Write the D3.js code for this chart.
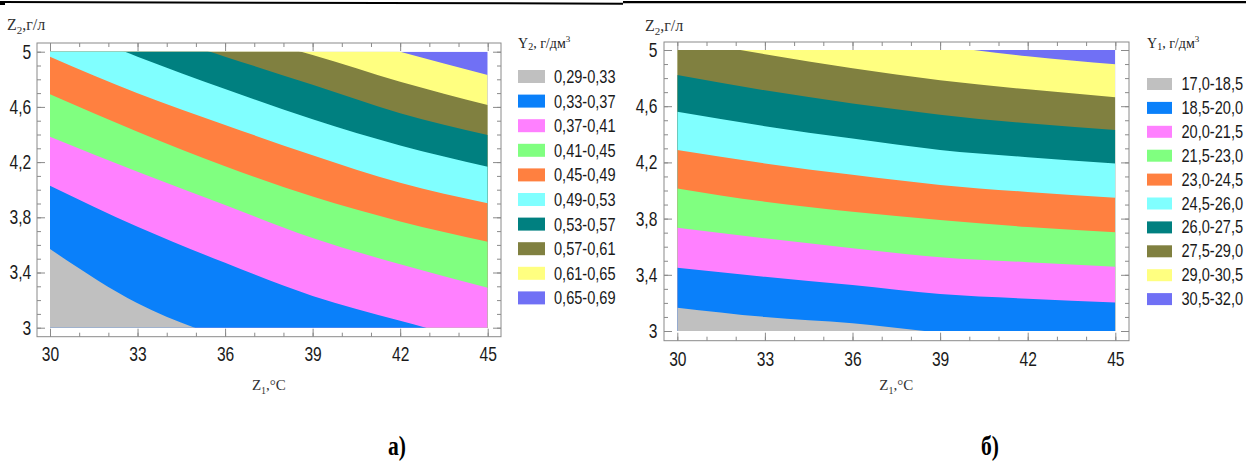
<!DOCTYPE html>
<html><head><meta charset="utf-8">
<script src="https://cdn.jsdelivr.net/npm/d3@7"></script>
<style>
html,body{margin:0;padding:0;background:#fff;}
svg{display:block;}
</style></head><body>
<svg id="c" width="1246" height="468"></svg>
<script>
// ---------- data ----------
const z1Grid = [30, 33, 36, 39, 42, 45];
const z1Ticks = [30, 33, 36, 39, 42, 45];
const z1TickLabels = ["30", "33", "36", "39", "42", "45"];
const z2Ticks = [3, 3.4, 3.8, 4.2, 4.6, 5];
const z2TickLabels = ["3", "3,4", "3,8", "4,2", "4,6", "5"];
const bandColors = ["#c0c0c0", "#0a80fa", "#ff80ff", "#80ff80", "#ff8040",
                    "#80ffff", "#008080", "#808040", "#ffff80", "#7070f5"];

// chart а) : Y2, г/дм3 — band labels
const legendA = ["0,29-0,33", "0,33-0,37", "0,37-0,41", "0,41-0,45", "0,45-0,49",
                 "0,49-0,53", "0,53-0,57", "0,57-0,61", "0,61-0,65", "0,65-0,69"];
// contour lines (Z2 at each Z1 of z1Grid)
const a033 = [3.570, 3.177, 2.920, 2.720, 2.550, 2.400];
const a037 = [4.029, 3.732, 3.470, 3.230, 3.050, 2.880];
const a041 = [4.384, 4.130, 3.889, 3.650, 3.460, 3.290];
const a045 = [4.691, 4.420, 4.170, 3.950, 3.770, 3.623];
const a049 = [4.964, 4.699, 4.469, 4.250, 4.050, 3.901];
const a053 = [5.220, 4.964, 4.730, 4.510, 4.320, 4.167];
const a057 = [5.380, 5.170, 4.964, 4.760, 4.554, 4.396];
const a061 = [5.500, 5.320, 5.150, 4.976, 4.783, 4.614];
const a065 = [5.650, 5.500, 5.340, 5.170, 5.000, 4.831];

// chart б) : Y1, г/дм3 — band labels
const legendB = ["17,0-18,5", "18,5-20,0", "20,0-21,5", "21,5-23,0", "23,0-24,5",
                 "24,5-26,0", "26,0-27,5", "27,5-29,0", "29,0-30,5", "30,5-32,0"];
const b185 = [3.166, 3.100, 3.055, 2.990, 2.955, 2.930];
const b200 = [3.451, 3.386, 3.327, 3.263, 3.230, 3.202];
const b215 = [3.735, 3.660, 3.589, 3.525, 3.490, 3.458];
const b230 = [4.015, 3.920, 3.849, 3.790, 3.740, 3.702];
const b245 = [4.288, 4.193, 4.112, 4.040, 3.990, 3.949];
const b260 = [4.561, 4.458, 4.370, 4.289, 4.237, 4.193];
const b275 = [4.822, 4.713, 4.619, 4.540, 4.478, 4.431];
const b290 = [5.080, 4.970, 4.870, 4.785, 4.720, 4.663];
const b305 = [5.400, 5.270, 5.160, 5.035, 4.955, 4.898];

// ---------- drawing ----------
const svg = d3.select("#c");
const SANS = "'Liberation Sans', Arial, sans-serif";
const SERIF = "'Liberation Serif', 'Times New Roman', serif";

// top rules
svg.append("line").attr("x1", 0).attr("y1", 1.9).attr("x2", 623).attr("y2", 3.7)
  .attr("stroke", "#000").attr("stroke-width", 2);
svg.append("line").attr("x1", 623).attr("y1", 2.2).attr("x2", 1246).attr("y2", 2.2)
  .attr("stroke", "#000").attr("stroke-width", 2.3);
svg.append("rect").attr("x", 0).attr("y", 3).attr("width", 5).attr("height", 2).attr("fill", "#000");

function drawChart(cfg, idx) {
  const g = svg.append("g");
  const x = d3.scaleLinear().domain([30, 45]).range([cfg.dx0, cfg.dx1]);
  const y = d3.scaleLinear().domain([3, 5]).range([cfg.dy1, cfg.dy0]);

  const clipId = "clip" + idx;
  svg.append("clipPath").attr("id", clipId).append("rect")
    .attr("x", x(30)).attr("y", y(5)).attr("width", x(45) - x(30)).attr("height", y(3) - y(5));
  const plot = g.append("g").attr("clip-path", `url(#${clipId})`);
  plot.append("rect").attr("x", x(30)).attr("y", y(5))
    .attr("width", x(45) - x(30)).attr("height", y(3) - y(5))
    .attr("fill", bandColors[bandColors.length - 1]);
  const area = d3.area()
    .x((d, i) => x(z1Grid[i]))
    .y0(() => y(1))
    .y1(d => y(d))
    .curve(d3.curveMonotoneX);
  for (let k = cfg.bounds.length - 1; k >= 0; k--) {
    plot.append("path").datum(cfg.bounds[k]).attr("d", area).attr("fill", bandColors[k]);
  }

  // frame
  const fr = cfg.frame;
  g.append("rect").attr("x", fr.x0).attr("y", fr.y0)
    .attr("width", fr.x1 - fr.x0).attr("height", fr.y1 - fr.y0)
    .attr("fill", "none").attr("stroke", "#8a8a8a").attr("stroke-width", 1);

  const minorX = d3.range(30, 45.01, 1);
  const minorY = d3.range(30, 50.01, 1).map(v => v / 10);
  function styleAxis(sel) {
    sel.select(".domain").remove();
    sel.selectAll(".tick line").attr("stroke", "#8a8a8a");
    sel.attr("font-family", SANS).attr("font-size", 20);
    sel.selectAll("text").attr("fill", "#1a1a1a").attr("transform", "scale(0.78,1)");
  }
  // bottom
  g.append("g").attr("transform", `translate(0,${fr.y1})`)
    .call(d3.axisBottom(x).tickValues(z1Ticks).tickSize(-8).tickPadding(cfg.xPad)
      .tickFormat((d, i) => z1TickLabels[i])).call(styleAxis);
  g.append("g").attr("transform", `translate(0,${fr.y1})`)
    .call(d3.axisBottom(x).tickValues(minorX).tickSize(-4).tickFormat("")).call(styleAxis);
  // top
  g.append("g").attr("transform", `translate(0,${fr.y0})`)
    .call(d3.axisTop(x).tickValues(z1Ticks).tickSize(-8).tickFormat("")).call(styleAxis);
  g.append("g").attr("transform", `translate(0,${fr.y0})`)
    .call(d3.axisTop(x).tickValues(minorX).tickSize(-4).tickFormat("")).call(styleAxis);
  // left
  g.append("g").attr("transform", `translate(${fr.x0},0)`)
    .call(d3.axisLeft(y).tickValues(z2Ticks).tickSize(-8).tickPadding(cfg.yPad)
      .tickFormat((d, i) => z2TickLabels[i])).call(styleAxis);
  g.append("g").attr("transform", `translate(${fr.x0},0)`)
    .call(d3.axisLeft(y).tickValues(minorY).tickSize(-4).tickFormat("")).call(styleAxis);
  // right
  g.append("g").attr("transform", `translate(${fr.x1},0)`)
    .call(d3.axisRight(y).tickValues(z2Ticks).tickSize(-8).tickFormat("")).call(styleAxis);
  g.append("g").attr("transform", `translate(${fr.x1},0)`)
    .call(d3.axisRight(y).tickValues(minorY).tickSize(-4).tickFormat("")).call(styleAxis);

  // y-axis title
  const yt = g.append("text").attr("x", cfg.yTitle[0]).attr("y", cfg.yTitle[1])
    .attr("font-family", SERIF).attr("font-size", 16).attr("fill", "#333");
  yt.append("tspan").text("Z");
  yt.append("tspan").attr("font-size", 11).attr("dy", 4).text("2");
  yt.append("tspan").attr("dy", -4).text(",г/л");

  // x-axis title
  const xt = g.append("text").attr("x", (x(30) + x(45)) / 2).attr("y", cfg.xTitleY)
    .attr("text-anchor", "middle").attr("font-family", SERIF).attr("font-size", 15).attr("fill", "#333");
  xt.append("tspan").text("Z");
  xt.append("tspan").attr("font-size", 10).attr("dy", 4).text("1");
  xt.append("tspan").attr("dy", -4).text(",°C");

  // legend
  const L = cfg.leg;
  const lt = g.append("text").attr("x", L.x).attr("y", L.titleY)
    .attr("font-family", SERIF).attr("font-size", 14).attr("fill", "#222");
  lt.append("tspan").text("Y");
  lt.append("tspan").attr("font-size", 10).attr("dy", 2).text(cfg.ySub);
  lt.append("tspan").attr("dy", -2).text(", г/дм");
  lt.append("tspan").attr("font-size", 9).attr("dy", -6).text("3");
  cfg.labels.forEach((lab, i) => {
    const ty = L.top + i * L.step;
    g.append("rect").attr("x", L.x).attr("y", ty).attr("width", L.w).attr("height", L.h)
      .attr("fill", bandColors[i]);
    g.append("text").attr("transform", `translate(${L.tx},${ty + L.h}) scale(0.81,1)`)
      .attr("font-family", SANS).attr("font-size", 18).attr("fill", "#1a1a1a").text(lab);
  });

  // panel letter
  g.append("text").attr("transform", `translate(${cfg.letter[0]},${cfg.letter[1]}) scale(0.8,1)`)
    .attr("text-anchor", "middle").attr("font-family", SERIF).attr("font-weight", "bold")
    .attr("font-size", 27).attr("fill", "#000").text(cfg.letterText);
}

drawChart({
  dx0: 50, dx1: 487.7, dy0: 51.7, dy1: 327.7,
  frame: {x0: 37, y0: 43, x1: 501, y1: 336.7},
  bounds: [a033, a037, a041, a045, a049, a053, a057, a061, a065],
  labels: legendA, ySub: "2",
  xPad: 10, yPad: 7.5,
  yTitle: [7, 30], xTitleY: 390,
  leg: {x: 518, titleY: 48, top: 70, step: 24.6, w: 27, h: 13, tx: 554},
  letter: [397, 455], letterText: "а)"
}, 0);

drawChart({
  dx0: 677.3, dx1: 1115.3, dy0: 50, dy1: 331,
  frame: {x0: 664, y0: 42, x1: 1129, y1: 340.7},
  bounds: [b185, b200, b215, b230, b245, b260, b275, b290, b305],
  labels: legendB, ySub: "1",
  xPad: 11, yPad: 8.5,
  yTitle: [645, 31], xTitleY: 390,
  leg: {x: 1147, titleY: 48, top: 78, step: 23.9, w: 25, h: 12, tx: 1181.5},
  letter: [990, 455], letterText: "б)"
}, 1);
</script>
</body></html>
